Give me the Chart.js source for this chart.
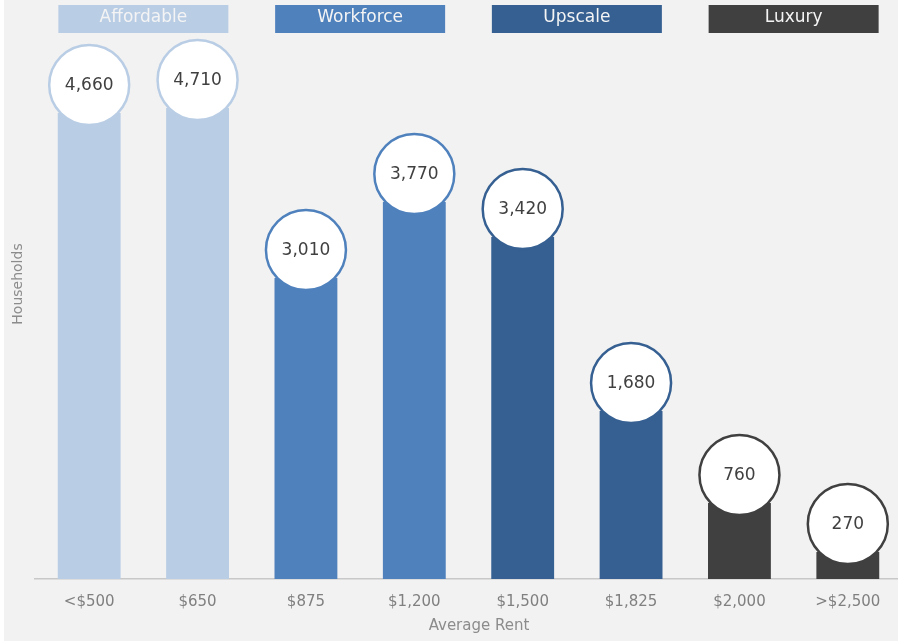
<!DOCTYPE html>
<html>
<head>
<meta charset="utf-8">
<script src="https://cdn.jsdelivr.net/npm/chart.js@4"></script>
<style>
    html, body { margin: 0; padding: 0; background: #ffffff; overflow: hidden; }
    #wrap { position: absolute; left: 4px; top: 0; width: 894px; height: 641px; background: #f2f2f2; overflow: hidden; }
</style>
</head>
<body>
<div id="wrap"><canvas id="rentChart" width="898" height="641"></canvas></div>
<script>
const rentLabels = ['<$500', '$650', '$875', '$1,200', '$1,500', '$1,825', '$2,000', '>$2,500'];
const households = [4660, 4710, 3010, 3770, 3420, 1680, 760, 270];
const segmentNames = ['Affordable', 'Workforce', 'Upscale', 'Luxury'];
const segmentOf = [0, 0, 1, 1, 2, 2, 3, 3];
const segmentColors = ['#b9cde5', '#4f81bd', '#366092', '#404040'];
const xTitle = 'Average Rent';
const yTitle = 'Households';

const FONT = "'DejaVu Sans', sans-serif";

// white value bubbles sitting over the top of each bar
const bubblePlugin = {
    id: 'bubbles',
    afterDatasetsDraw(chart) {
        const ctx = chart.ctx;
        const meta = chart.getDatasetMeta(0);
        ctx.save();
        meta.data.forEach(function (bar, i) {
            const cx = bar.x;
            const cy = bar.y - 28;
            ctx.beginPath();
            ctx.arc(cx, cy, 40, 0, Math.PI * 2);
            ctx.fillStyle = '#ffffff';
            ctx.fill();
            ctx.lineWidth = 2.5;
            ctx.strokeStyle = segmentColors[segmentOf[i]];
            ctx.stroke();
            ctx.fillStyle = '#404040';
            ctx.font = '17px ' + FONT;
            ctx.textAlign = 'center';
            ctx.textBaseline = 'middle';
            ctx.fillText(households[i].toLocaleString('en-US'), cx, cy + 1);
        });
        ctx.restore();
    }
};

// coloured group headers across the top, plus axis titles
const headerPlugin = {
    id: 'headers',
    afterDraw(chart) {
        const ctx = chart.ctx;
        const x = chart.scales.x;
        ctx.save();
        segmentNames.forEach(function (name, s) {
            const idx = segmentOf.map((g, i) => g === s ? i : -1).filter(i => i >= 0);
            const cx = (x.getPixelForValue(idx[0]) + x.getPixelForValue(idx[idx.length - 1])) / 2;
            ctx.fillStyle = segmentColors[s];
            ctx.fillRect(cx - 85, 5, 170, 28);
            ctx.fillStyle = '#f4f4f4';
            ctx.font = '17px ' + FONT;
            ctx.textAlign = 'center';
            ctx.textBaseline = 'middle';
            ctx.fillText(name, cx, 18);
        });

        ctx.fillStyle = '#8c8c8c';
        ctx.font = '15px ' + FONT;
        ctx.textAlign = 'center';
        ctx.textBaseline = 'middle';
        ctx.fillText(xTitle, 475, 626);

        ctx.translate(14, 284);
        ctx.rotate(-Math.PI / 2);
        ctx.font = '14px ' + FONT;
        ctx.fillText(yTitle, 0, 0);
        ctx.restore();
    }
};

const ctx = document.getElementById('rentChart').getContext('2d');
const rentChart = new Chart(ctx, {
    type: 'bar',
    data: {
        labels: rentLabels,
        datasets: [{
            label: 'Households',
            data: households,
            backgroundColor: segmentOf.map(s => segmentColors[s]),
            categoryPercentage: 1,
            barPercentage: 0.58,
            borderWidth: 0
        }]
    },
    options: {
        responsive: false,
        animation: false,
        layout: { padding: { top: 79, right: 0, left: 0, bottom: 0 } },
        plugins: {
            legend: { display: false },
            tooltip: { enabled: false }
        },
        scales: {
            x: {
                grid: { display: false },
                border: { color: '#c8c8c8', width: 1.5 },
                ticks: { color: '#808080', font: { family: FONT, size: 15 }, padding: 6 },
                afterFit(scale) { scale.height = 62; }
            },
            y: {
                min: 0,
                max: 5000,
                grid: { display: false },
                border: { display: false },
                ticks: { display: false },
                afterFit(scale) { scale.width = 31; }
            }
        }
    },
    plugins: [bubblePlugin, headerPlugin]
});
</script>
</body>
</html>
